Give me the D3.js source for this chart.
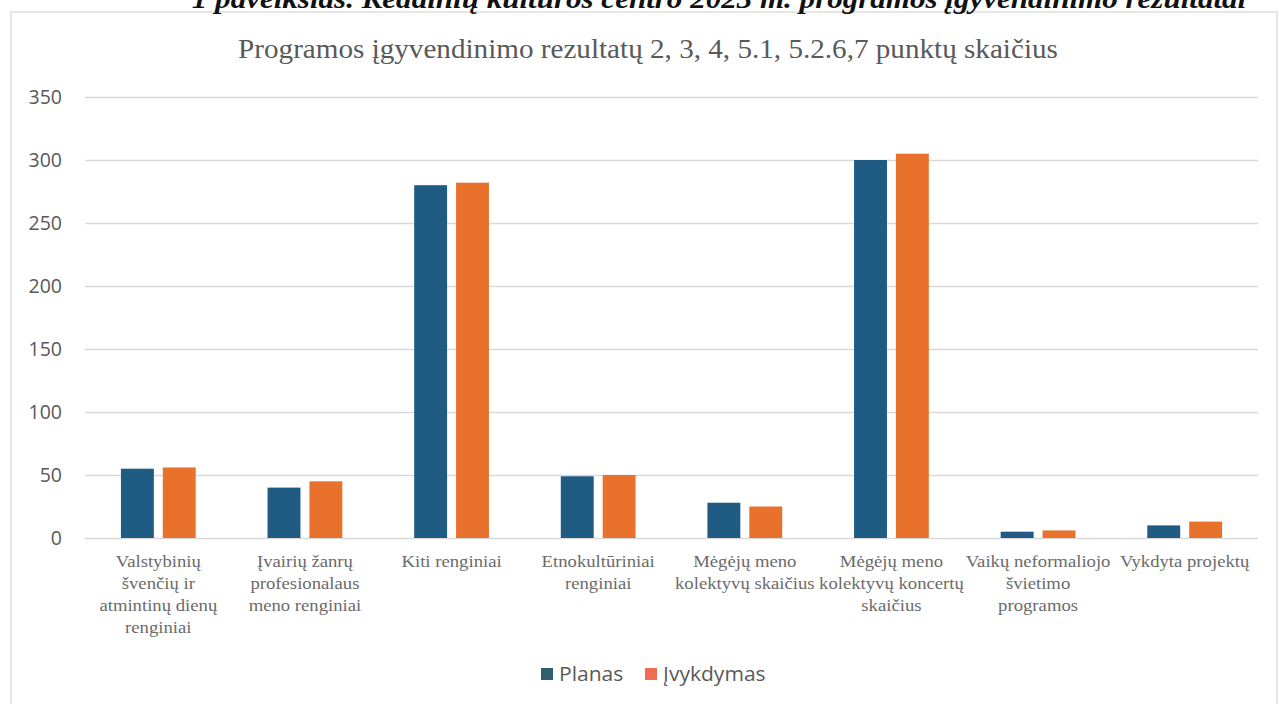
<!DOCTYPE html>
<html>
<head>
<meta charset="utf-8">
<script src="https://cdn.jsdelivr.net/npm/d3@7"></script>
<style>
  body { margin: 0; background: #fff; }
  svg { display: block; }
</style>
</head>
<body>
<div id="chart"></div>
<script>
var categories = [
  ["Valstybinių", "švenčių ir", "atmintinų dienų", "renginiai"],
  ["Įvairių žanrų", "profesionalaus", "meno renginiai"],
  ["Kiti renginiai"],
  ["Etnokultūriniai", "renginiai"],
  ["Mėgėjų meno", "kolektyvų skaičius"],
  ["Mėgėjų meno", "kolektyvų koncertų", "skaičius"],
  ["Vaikų neformaliojo", "švietimo", "programos"],
  ["Vykdyta projektų"]
];
var seriesNames = ["Planas", "Įvykdymas"];
var planas = [55, 40, 280, 49, 28, 300, 5, 10];
var ivykdymas = [56, 45, 282, 50, 25, 305, 6, 13];
var yTicks = [0, 50, 100, 150, 200, 250, 300, 350];
var colors = ["#1f5b82", "#e8722c"];

var width = 1280, height = 704;
var margin = {top: 97, right: 22, bottom: 166, left: 85};
var w = width - margin.left - margin.right,
    h = height - margin.top - margin.bottom;
var stretch = 1.1; // the source picture is a bit wider than tall

var svg = d3.select("#chart").append("svg")
  .attr("width", width)
  .attr("height", height);

// outer frame of the chart
svg.append("rect")
  .attr("x", 11).attr("y", 12)
  .attr("width", 1266).attr("height", 700)
  .attr("fill", "none")
  .attr("stroke", "#e6e6e6")
  .attr("stroke-width", 2);

// caption above the chart, only its lower part shows
svg.append("text")
  .attr("transform", "translate(719,8) scale(1.15,1)")
  .attr("text-anchor", "middle")
  .attr("font-family", "Liberation Serif, serif")
  .attr("font-style", "italic")
  .attr("font-weight", "bold")
  .attr("font-size", 27)
  .attr("fill", "#111")
  .text("1 paveikslas. Kėdainių kultūros centro 2023 m. programos įgyvendinimo rezultatai");

svg.append("text")
  .attr("transform", "translate(648,58) scale(" + stretch + ",1)")
  .attr("text-anchor", "middle")
  .attr("font-family", "Liberation Serif, serif")
  .attr("font-size", 26.5)
  .attr("fill", "#595959")
  .text("Programos įgyvendinimo rezultatų 2, 3, 4, 5.1, 5.2.6,7 punktų skaičius");

var g = svg.append("g")
  .attr("transform", "translate(" + margin.left + "," + margin.top + ")");

var x0 = d3.scaleBand()
  .domain(d3.range(categories.length))
  .range([0, w])
  .paddingInner(0.49)
  .paddingOuter(0.245);

var x1 = d3.scaleBand()
  .domain([0, 1])
  .range([0, x0.bandwidth()])
  .paddingInner(0.214);

var y = d3.scaleLinear()
  .domain([0, 350])
  .range([h, 0]);

var yAxis = d3.axisLeft(y)
  .tickValues(yTicks)
  .tickSize(-w)
  .tickPadding(23);

var yAxisGroup = g.append("g").call(yAxis);
yAxisGroup.select(".domain").remove();
yAxisGroup.selectAll(".tick line")
  .attr("stroke", "#d9d9d9")
  .attr("stroke-width", 1.5);
yAxisGroup.selectAll(".tick text")
  .attr("font-family", "Open Sans, sans-serif")
  .attr("font-size", 19.5)
  .attr("fill", "#595959");

var rows = categories.map(function(c, i) {
  return {i: i, values: [planas[i], ivykdymas[i]]};
});

var groups = g.selectAll(".grp")
  .data(rows)
  .enter().append("g")
  .attr("class", "grp")
  .attr("transform", d => "translate(" + x0(d.i) + ",0)");

groups.selectAll("rect")
  .data(d => d.values.map((v, k) => ({k: k, v: v})))
  .enter().append("rect")
  .attr("x", d => x1(d.k))
  .attr("y", d => y(d.v))
  .attr("width", x1.bandwidth())
  .attr("height", d => h - y(d.v))
  .attr("fill", d => colors[d.k]);

// category labels
var xl = g.append("g").attr("transform", "translate(0," + h + ")");
categories.forEach(function(lines, i) {
  var cx = x0(i) + x0.bandwidth() / 2;
  var t = xl.append("text")
    .attr("transform", "translate(" + cx + ",0) scale(" + stretch + ",1)")
    .attr("text-anchor", "middle")
    .attr("font-family", "Liberation Serif, serif")
    .attr("font-size", 17)
    .attr("fill", "#6b6b6b");
  lines.forEach(function(line, j) {
    t.append("tspan")
      .attr("x", 0)
      .attr("y", 29 + j * 22)
      .text(line);
  });
});

// legend
var legend = svg.append("g").attr("transform", "translate(541,674)");
var legendX = [0, 104];
seriesNames.forEach(function(name, k) {
  legend.append("rect")
    .attr("x", legendX[k]).attr("y", -6)
    .attr("width", 12).attr("height", 12)
    .attr("fill", k == 0 ? "#2f5e6e" : "#ee6f4f");
  legend.append("text")
    .attr("transform", "translate(" + (legendX[k] + 18) + ",7) scale(1.08,1)")
    .attr("font-family", "Open Sans, sans-serif")
    .attr("font-size", 19.5)
    .attr("fill", "#595959")
    .text(name);
});
</script>
</body>
</html>
